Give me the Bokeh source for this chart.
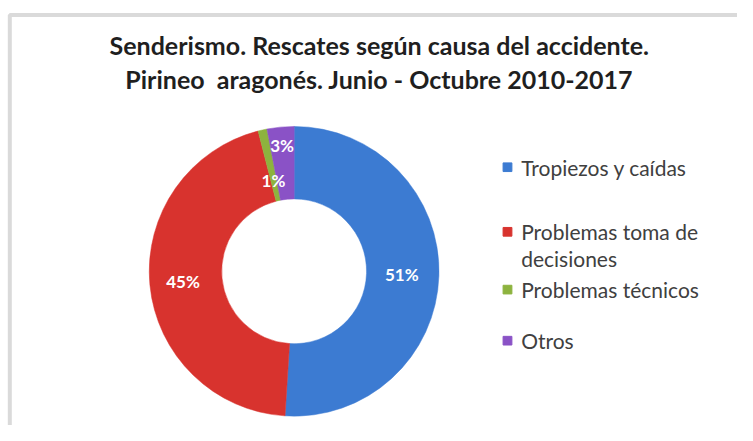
import numpy as np
from bokeh.plotting import figure
from bokeh.models import Range1d
from bokeh.core.properties import value
from bokeh.embed import file_html
from bokeh.resources import INLINE

# ---- data ----
categories = ["Tropiezos y caídas", "Problemas toma de\ndecisiones", "Problemas técnicos", "Otros"]
percent = [51, 45, 1, 3]
pct_labels = ["51%", "45%", "1%", "3%"]
colors = ["#3C7BD2", "#D8332E", "#8DB33E", "#8A52C6"]
title_lines = ["Senderismo. Rescates según causa del accidente.",
               "Pirineo\u00a0\u00a0aragonés. Junio - Octubre 2010-2017"]

W, H = 737, 425
FONT = "Lato"

# the plot area maps the full 753 x 441 chart canvas
p = figure(width=W, height=H, output_backend="svg", toolbar_location=None,
           x_range=Range1d(0, 753), y_range=Range1d(0, 441),
           min_border=0, outline_line_color=None, background_fill_color="white",
           border_fill_color="white")
p.axis.visible = False
p.grid.visible = False

def Y(img_y):
    return 441 - img_y

# chart border
p.line([9.5, 9.5, 800], [Y(500), Y(15), Y(15)], line_color="#dadada", line_width=4)

# title
for i, t in enumerate(title_lines):
    p.text(x=[387], y=[Y(46 + 35 * i)], text=[t], text_font=value(FONT),
           text_font_size="25px", text_font_style="bold", text_color="#1f1f1f",
           text_align="center", text_baseline="middle")

# donut
cx, cy = 300, Y(281)
r_in, r_out = 74, 148
vals = np.array(percent, dtype=float)
frac = vals / vals.sum()
cum = np.concatenate([[0], np.cumsum(frac)])
start = np.pi / 2 - 2 * np.pi * cum[:-1]
end = np.pi / 2 - 2 * np.pi * cum[1:]
p.annular_wedge(x=cx, y=cy, inner_radius=r_in, outer_radius=r_out,
                start_angle=start, end_angle=end, direction="clock",
                fill_color=colors, line_color=colors, line_width=0.5)

# percent labels
label_r = [110, 114, 97, 131]
mid = 2 * np.pi * (cum[:-1] + frac / 2)
lx = cx + np.array(label_r) * np.sin(mid)
ly = cy + np.array(label_r) * np.cos(mid)
p.text(x=lx, y=ly, text=pct_labels, text_font=value(FONT), text_font_size="17px",
       text_font_style="bold", text_color="white", text_align="center",
       text_baseline="middle")

# legend (manual)
leg_y = [173, 240, 300, 353]
for c, lab, yy in zip(colors, categories, leg_y):
    p.rect(x=[518], y=[Y(yy)], width=9, height=9, fill_color=c, line_color=c)
    lines = lab.split("\n")
    for j, ln in enumerate(lines):
        p.text(x=[532], y=[Y(yy + 28 * j)], text=[ln], text_font=value(FONT),
               text_font_size="21px", text_color="#404040",
               text_align="left", text_baseline="middle")

open("out.html", "w").write(file_html(p, INLINE))
